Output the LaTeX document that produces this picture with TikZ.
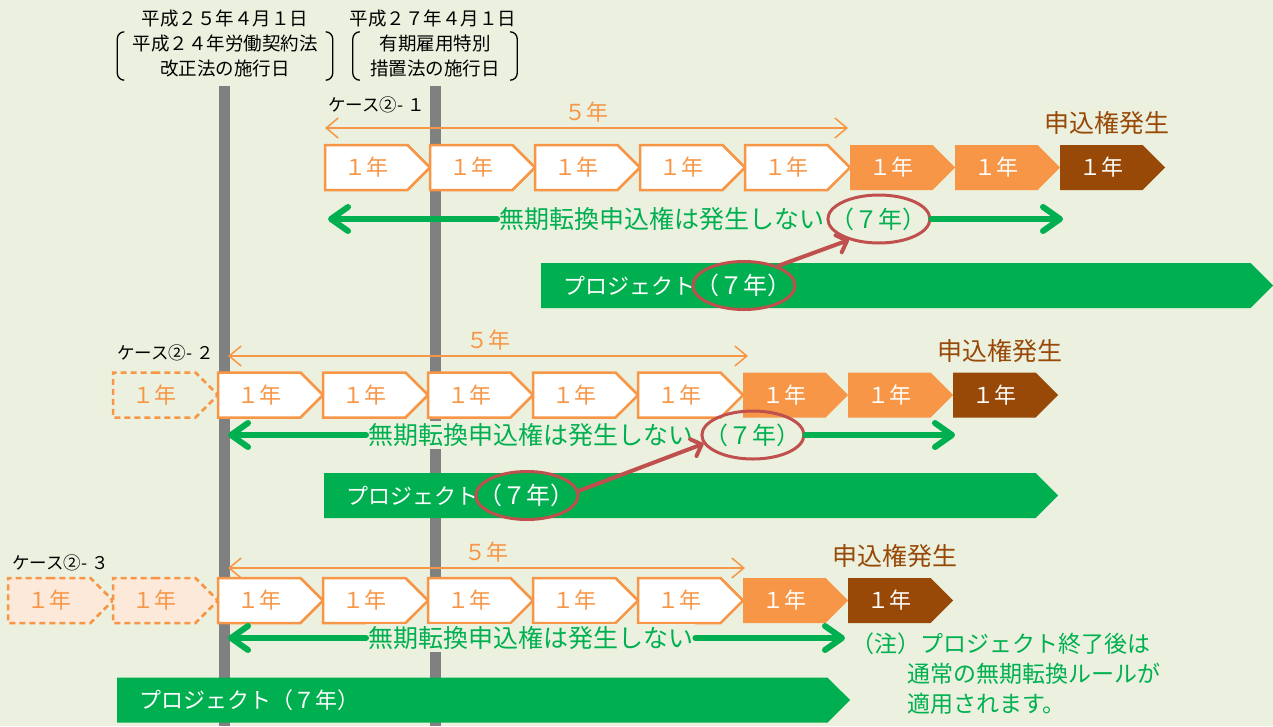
\documentclass[tikz,border=0pt]{standalone}
\usepackage{fontspec}
\setmainfont{Noto Sans CJK JP}
\usetikzlibrary{arrows.meta, positioning, shapes.symbols, shapes.geometric}
\newcommand*{\pxfont}[2]{\fontsize{#1}{#2}\selectfont}
\definecolor{bg}{RGB}{235,241,222}
\definecolor{ora}{RGB}{247,150,70}
\definecolor{brn}{RGB}{152,72,7}
\definecolor{grn}{RGB}{0,176,80}
\definecolor{ringred}{RGB}{192,80,77}
\definecolor{pale}{RGB}{253,233,217}
\definecolor{barg}{RGB}{128,128,128}
\tikzstyle{yearbox} = [shape=signal, signal to=east, signal pointer angle=90, minimum width=105pt, minimum height=45pt, inner sep=0pt, outer sep=0pt, font=\pxfont{22}{26}]
\tikzstyle{contract} = [yearbox, draw=ora, line width=2.5pt, fill=white, text=ora]
\tikzstyle{before} = [yearbox, draw=ora, line width=2.5pt, dash pattern=on 6pt off 4pt, text=ora]
\tikzstyle{renewed} = [yearbox, fill=ora, text=white]
\tikzstyle{granted} = [yearbox, fill=brn, text=white]
\tikzstyle{project} = [shape=signal, signal to=east, signal pointer angle=90, minimum height=45pt, inner sep=0pt, outer sep=0pt, fill=grn]
\tikzstyle{projtext} = [text=white, font=\pxfont{22}{26}, inner sep=0pt]
\tikzstyle{ring} = [ellipse, draw=ringred, line width=3pt, minimum width=102pt, minimum height=48pt, inner xsep=-12pt, inner ysep=2pt, font=\pxfont{24}{28}]
\tikzstyle{notice} = [text=grn, font=\pxfont{25}{30}, fill=bg, inner sep=2pt]
\tikzstyle{emerge} = [text=brn, font=\pxfont{25}{30}, inner sep=0pt, xshift=6pt]
\tikzstyle{caselabel} = [font=\pxfont{17.5}{20}, inner sep=0pt]
\tikzstyle{heading} = [font=\pxfont{18.5}{25}, inner sep=0pt, align=center]
\tikzstyle{fiveyr} = [{Straight Barb[length=12pt,width=20pt]}-{Straight Barb[length=12pt,width=20pt]}, ora, line width=1.5pt]
\tikzstyle{noconv} = [grn, line width=6pt, line cap=round, -{Straight Barb[length=17pt,width=24pt,round]}]
\tikzstyle{pointer} = [ringred, line width=4pt, -{Straight Barb[length=9pt,width=18pt,round]}]
\tikzstyle{timeline} = [barg, line width=11pt]
\tikzstyle{paren} = [line width=1.3pt, rounded corners=7pt]

\begin{document}
\begin{tikzpicture}[x=1pt, y=-1pt]
    \fill[bg] (0,0) rectangle (1273,726);
    \useasboundingbox (0,0) rectangle (1273,726);

    % Dates of the two laws.
    \node (d25) [heading] at (225,18) {平成２５年４月１日};
    \node (law25) [heading, minimum width=215pt, minimum height=48pt] at (225,56) {平成２４年労働契約法\\改正法の施行日};
    \node (d27) [heading] at (433,18) {平成２７年４月１日};
    \node (law27) [heading, minimum width=164pt, minimum height=48pt] at (435,56) {有期雇用特別\\措置法の施行日};
    \foreach \n in {law25, law27} {%
        \draw [paren] ([xshift=7pt]\n.north west) -- (\n.north west) -- (\n.south west) -- ([xshift=7pt]\n.south west);
        \draw [paren] ([xshift=-7pt]\n.north east) -- (\n.north east) -- (\n.south east) -- ([xshift=-7pt]\n.south east);
    }
    \foreach \x in {224.5, 435.5} {%
        \draw [timeline] (\x,86) -- (\x,726);
    }

    % Case 1.
    \node (c1lab) [caselabel, anchor=west] at (328,105) {ケース②- １};
    \node (c1w1) [contract, anchor=west] at (325,167.5) {１年};
    \foreach \i [remember=\i as \j (initially 1)] in {2,...,5} {%
        \node (c1w\i) [contract, right=0pt of c1w\j] {１年};
    }
    \node (c1o1) [renewed, right=0pt of c1w5] {１年};
    \node (c1o2) [renewed, right=0pt of c1o1] {１年};
    \node (c1b) [granted, right=0pt of c1o2] {１年};
    \node (c1e) [emerge, above=10pt of c1b] {申込権発生};
    \coordinate (c1dl) at (325,128);
    \coordinate (c1dr) at (848,128);
    \draw [fiveyr] (c1dl) -- node [above=5pt, font=\pxfont{22}{26}, inner sep=0pt] (c1five) {５年} (c1dr);
    \node (g1t) [notice, anchor=west] at (497,219) {無期転換申込権は発生しない};
    \node (g1y) [ring, text=grn, right=0pt of g1t] {（７年）};
    \coordinate (g1l) at (328,219);
    \coordinate (g1r) at (1063,219);
    \draw [noconv] (g1t.west) -- (g1l);
    \draw [noconv] (g1y.east) -- (g1r);
    \node (p1) [project, minimum width=732pt, anchor=west] at (541,285.5) {};
    \node (p1t) [projtext, anchor=west] at ([xshift=22pt]p1.west) {プロジェクト};
    \node (p1y) [ring, text=white, right=-4pt of p1t] {（７年）};

    % Case 2.
    \node (c2lab) [caselabel, anchor=east] at (214,353) {ケース②- ２};
    \node (c2p1) [before, anchor=west] at (113,395) {１年};
    \node (c2w1) [contract, right=0pt of c2p1] {１年};
    \foreach \i [remember=\i as \j (initially 1)] in {2,...,5} {%
        \node (c2w\i) [contract, right=0pt of c2w\j] {１年};
    }
    \node (c2o1) [renewed, right=0pt of c2w5] {１年};
    \node (c2o2) [renewed, right=0pt of c2o1] {１年};
    \node (c2b) [granted, right=0pt of c2o2] {１年};
    \node (c2e) [emerge, above=10pt of c2b] {申込権発生};
    \coordinate (c2dl) at (228,356);
    \coordinate (c2dr) at (748,356);
    \draw [fiveyr] (c2dl) -- node [above=5pt, font=\pxfont{22}{26}, inner sep=0pt] (c2five) {５年} (c2dr);
    \node (g2t) [notice, anchor=west] at (366,435) {無期転換申込権は発生しない};
    \node (g2y) [ring, text=grn, right=5pt of g2t] {（７年）};
    \coordinate (g2l) at (228,435);
    \coordinate (g2r) at (955,435);
    \draw [noconv] (g2t.west) -- (g2l);
    \draw [noconv] (g2y.east) -- (g2r);
    \node (p2) [project, minimum width=734pt, anchor=west] at (324,495.5) {};
    \node (p2t) [projtext, anchor=west] at ([xshift=22pt]p2.west) {プロジェクト};
    \node (p2y) [ring, text=white, right=-4pt of p2t] {（７年）};

    % Case 3.
    \node (c3lab) [caselabel, anchor=west] at (12,563) {ケース②- ３};
    \node (c3p1) [before, fill=pale, anchor=west] at (8,600.5) {１年};
    \node (c3p2) [before, fill=pale, right=0pt of c3p1] {１年};
    \node (c3w1) [contract, right=0pt of c3p2] {１年};
    \foreach \i [remember=\i as \j (initially 1)] in {2,...,5} {%
        \node (c3w\i) [contract, right=0pt of c3w\j] {１年};
    }
    \node (c3o1) [renewed, right=0pt of c3w5] {１年};
    \node (c3b) [granted, right=0pt of c3o1] {１年};
    \node (c3e) [emerge, above=10pt of c3b] {申込権発生};
    \coordinate (c3dl) at (228,568);
    \coordinate (c3dr) at (745,568);
    \draw [fiveyr] (c3dl) -- node [above=5pt, font=\pxfont{22}{26}, inner sep=0pt] (c3five) {５年} (c3dr);
    \node (g3t) [notice, anchor=west] at (366,638) {無期転換申込権は発生しない};
    \coordinate (g3l) at (228,638);
    \coordinate (g3r) at (845,638);
    \draw [noconv] (g3t.west) -- (g3l);
    \draw [noconv] (g3t.east) -- (g3r);
    \node (note) [text=grn, font=\pxfont{23}{30}, inner sep=0pt, align=left, anchor=north west] at ([xshift=6pt, yshift=5pt]g3r) {（注）プロジェクト終了後は\\\hspace*{56pt}通常の無期転換ルールが\\\hspace*{56pt}適用されます。};
    \node (p3) [project, minimum width=733pt, anchor=west] at (117,700) {};
    \node (p3t) [projtext, anchor=west] at ([xshift=22pt]p3.west) {プロジェクト（７年）};

    % Pointers.
    \draw [pointer] (p1y.30) -- (g1y.215);
    \draw [pointer] (p2y.5) -- (g2y.190);
\end{tikzpicture}
\end{document}
